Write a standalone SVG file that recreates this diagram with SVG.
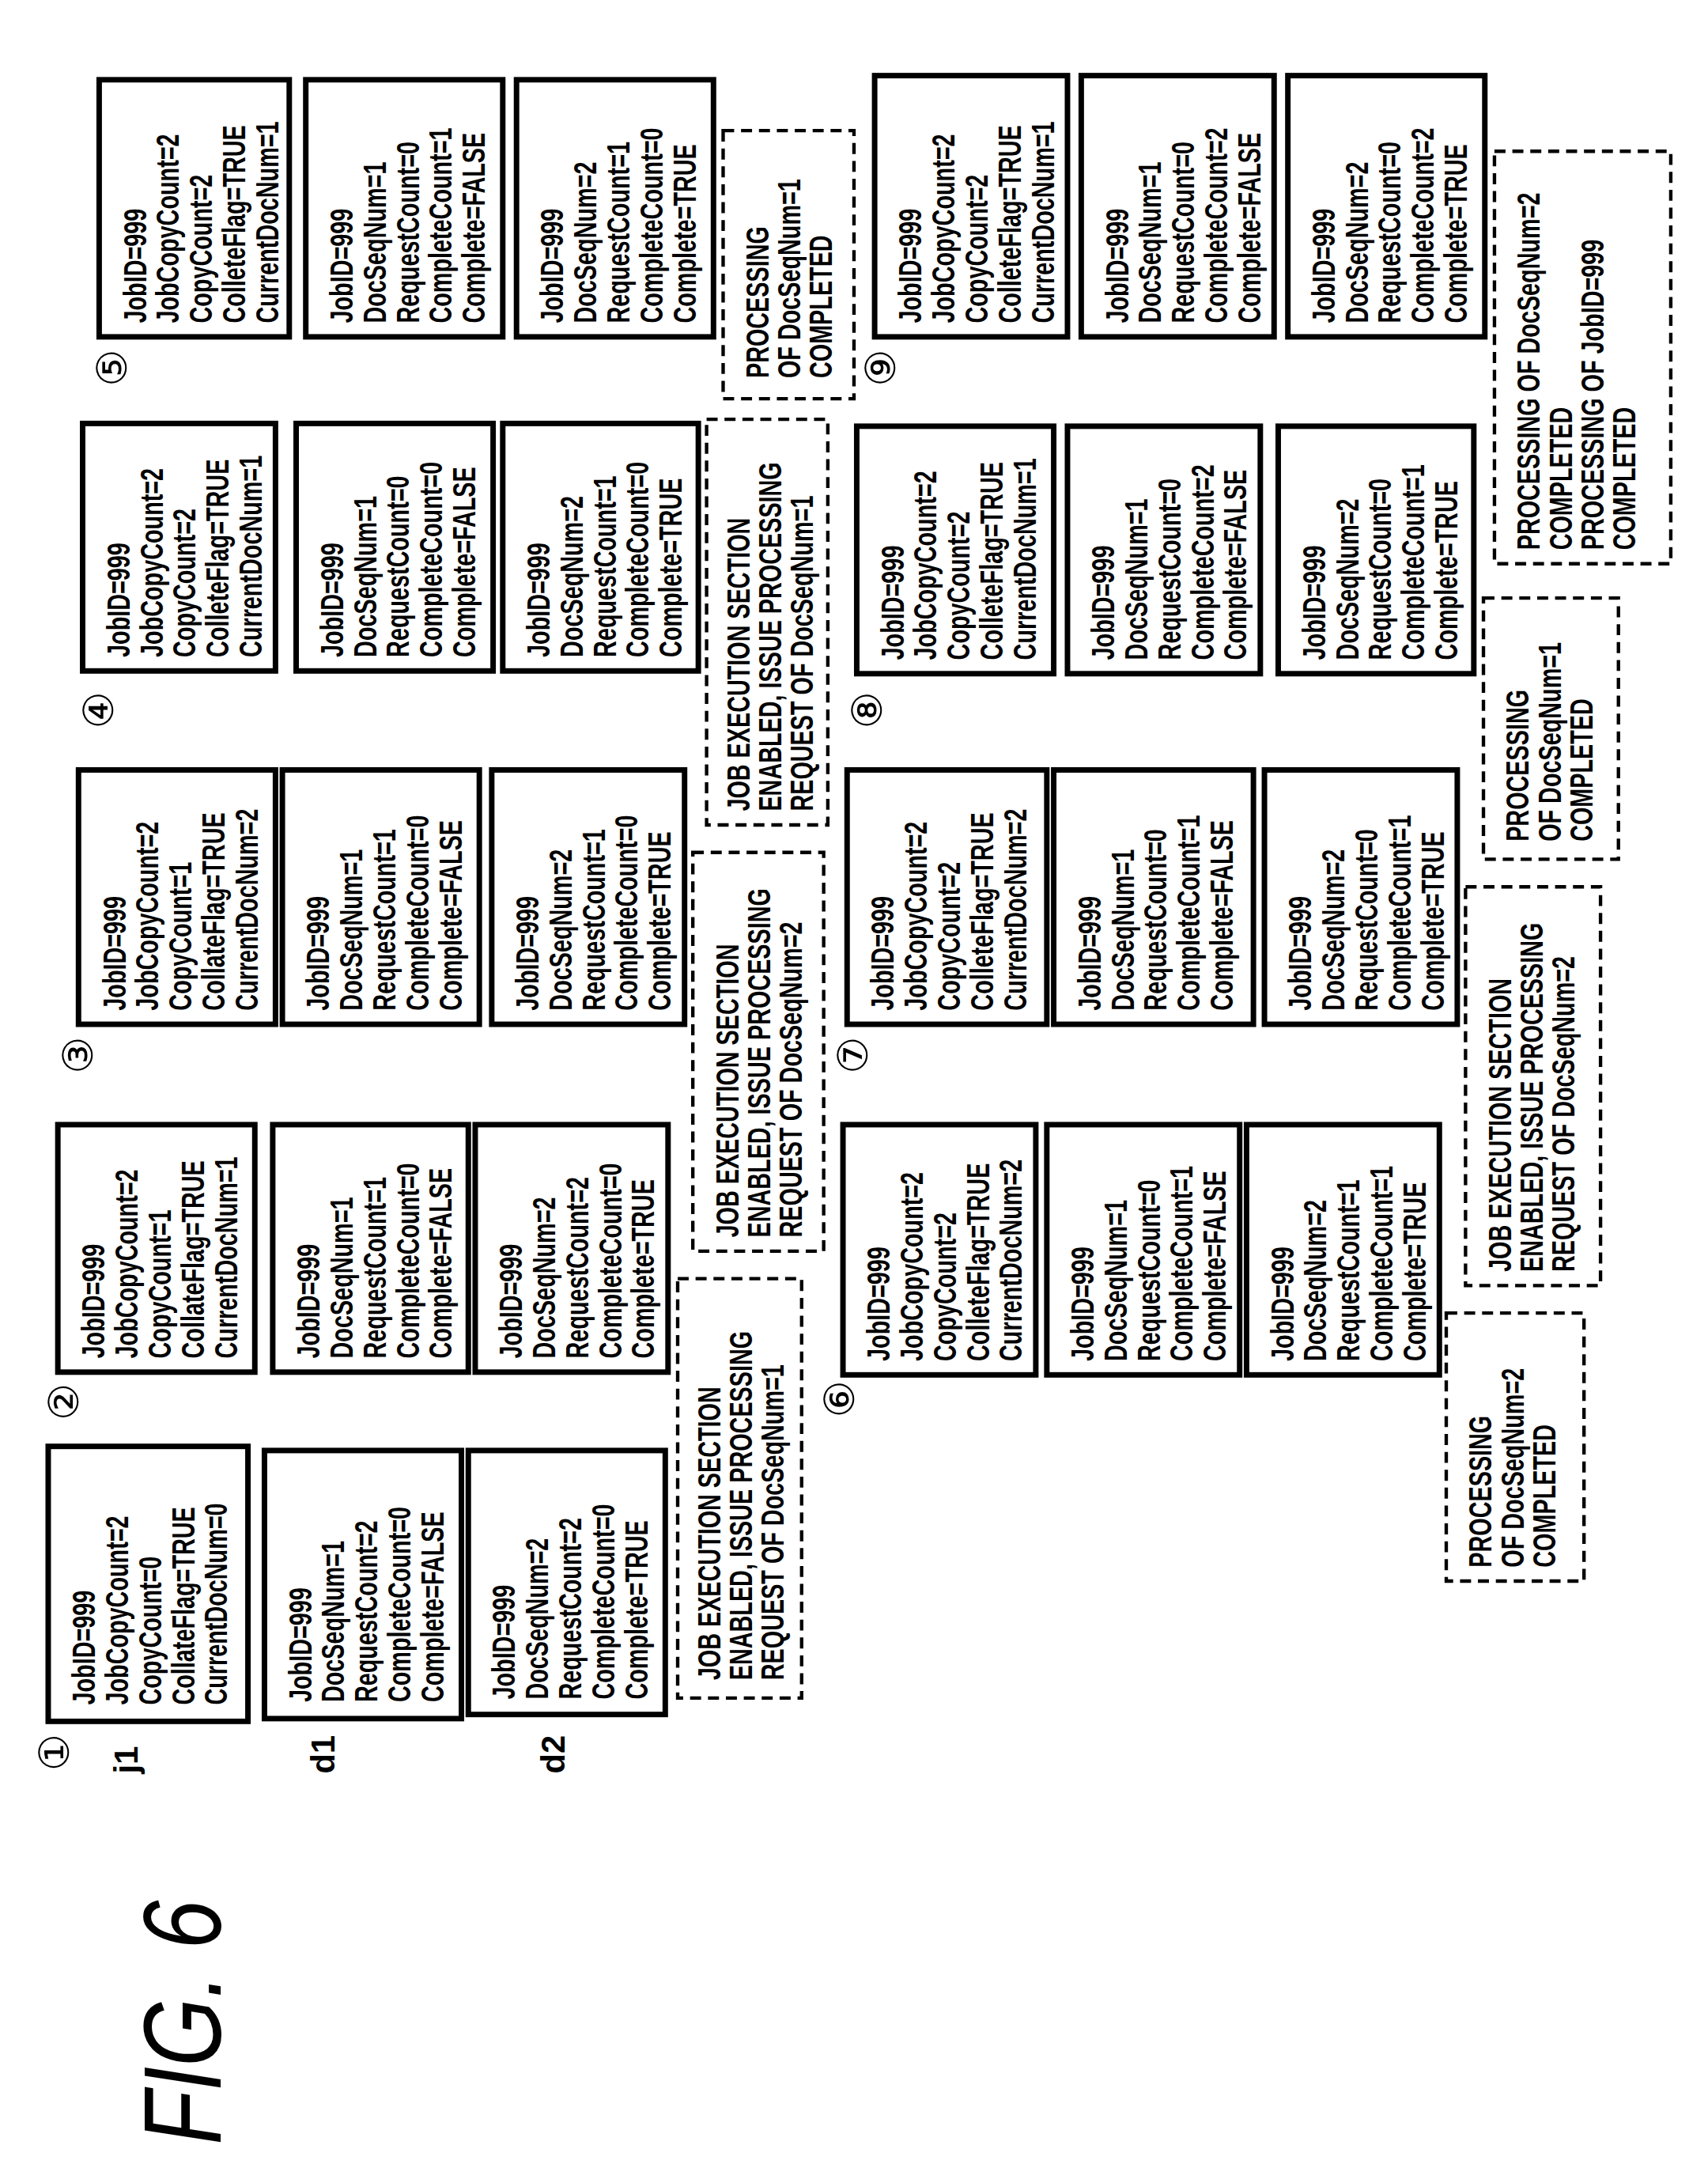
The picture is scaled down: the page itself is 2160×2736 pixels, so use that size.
<svg xmlns="http://www.w3.org/2000/svg" width="2160" height="2736" viewBox="0 0 2160 2736">
<style>
.b{fill:#fff;stroke:#000;stroke-width:4}
.d{fill:none;stroke:#000;stroke-width:2.5;stroke-dasharray:8 5}
.t{font-family:"Liberation Sans",Arial,sans-serif;font-weight:bold;font-size:23px;fill:#000}
.c{font-family:"DejaVu Sans",sans-serif;font-size:30px;fill:#000}
.l{font-family:"Liberation Sans",Arial,sans-serif;font-weight:bold;font-size:24px;fill:#000}
.f{font-family:"Liberation Sans",Arial,sans-serif;font-style:italic;font-size:80px;fill:#000}
</style>
<rect width="2160" height="2736" fill="#fff"/>
<g transform="scale(1.7419,1.7383)">
<g id="fig"><text class="f" transform="translate(160,1560) rotate(-90) scale(0.8,1)">FIG. 6</text></g>
<g id="labels">
<text class="c" transform="translate(50,1288) rotate(-90)">①</text>
<text class="l" transform="translate(100,1290) rotate(-90)">j1</text>
<text class="l" transform="translate(243,1290) rotate(-90)">d1</text>
<text class="l" transform="translate(410,1290) rotate(-90)">d2</text>
<text class="c" transform="translate(57,1033) rotate(-90)">②</text>
<text class="c" transform="translate(67,781) rotate(-90)">③</text>
<text class="c" transform="translate(82,530) rotate(-90)">④</text>
<text class="c" transform="translate(92,281) rotate(-90)">⑤</text>
<text class="c" transform="translate(620,1031) rotate(-90)">⑥</text>
<text class="c" transform="translate(630,781) rotate(-90)">⑦</text>
<text class="c" transform="translate(640,530) rotate(-90)">⑧</text>
<text class="c" transform="translate(650,281) rotate(-90)">⑨</text>
</g>

<!-- State 1 -->
<g id="s1j"><rect class="b" x="35" y="1052" width="145" height="200"/><text class="t" transform="translate(45,1240) rotate(-90) scale(0.72,1)"><tspan x="0" dy="24">JobID=999</tspan><tspan x="0" dy="24">JobCopyCount=2</tspan><tspan x="0" dy="24">CopyCount=0</tspan><tspan x="0" dy="24">CollateFlag=TRUE</tspan><tspan x="0" dy="24">CurrentDocNum=0</tspan></text></g>
<g id="s1d1"><rect class="b" x="192" y="1055" width="143" height="195"/><text class="t" transform="translate(202,1238) rotate(-90) scale(0.72,1)"><tspan x="0" dy="24">JobID=999</tspan><tspan x="0" dy="24">DocSeqNum=1</tspan><tspan x="0" dy="24">RequestCount=2</tspan><tspan x="0" dy="24">CompleteCount=0</tspan><tspan x="0" dy="24">Complete=FALSE</tspan></text></g>
<g id="s1d2"><rect class="b" x="340" y="1055" width="143" height="192"/><text class="t" transform="translate(350,1236) rotate(-90) scale(0.72,1)"><tspan x="0" dy="24">JobID=999</tspan><tspan x="0" dy="24">DocSeqNum=2</tspan><tspan x="0" dy="24">RequestCount=2</tspan><tspan x="0" dy="24">CompleteCount=0</tspan><tspan x="0" dy="24">Complete=TRUE</tspan></text></g>

<!-- State 2 -->
<g id="s2j"><rect class="b" x="42" y="818" width="143" height="180"/><text class="t" transform="translate(52,988) rotate(-90) scale(0.72,1)"><tspan x="0" dy="24">JobID=999</tspan><tspan x="0" dy="24">JobCopyCount=2</tspan><tspan x="0" dy="24">CopyCount=1</tspan><tspan x="0" dy="24">CollateFlag=TRUE</tspan><tspan x="0" dy="24">CurrentDocNum=1</tspan></text></g>
<g id="s2d1"><rect class="b" x="198" y="818" width="142" height="180"/><text class="t" transform="translate(208,988) rotate(-90) scale(0.72,1)"><tspan x="0" dy="24">JobID=999</tspan><tspan x="0" dy="24">DocSeqNum=1</tspan><tspan x="0" dy="24">RequestCount=1</tspan><tspan x="0" dy="24">CompleteCount=0</tspan><tspan x="0" dy="24">Complete=FALSE</tspan></text></g>
<g id="s2d2"><rect class="b" x="345" y="818" width="140" height="180"/><text class="t" transform="translate(355,988) rotate(-90) scale(0.72,1)"><tspan x="0" dy="24">JobID=999</tspan><tspan x="0" dy="24">DocSeqNum=2</tspan><tspan x="0" dy="24">RequestCount=2</tspan><tspan x="0" dy="24">CompleteCount=0</tspan><tspan x="0" dy="24">Complete=TRUE</tspan></text></g>

<!-- State 3 -->
<g id="s3j"><rect class="b" x="57" y="560" width="143" height="185"/><text class="t" transform="translate(67,735) rotate(-90) scale(0.72,1)"><tspan x="0" dy="24">JobID=999</tspan><tspan x="0" dy="24">JobCopyCount=2</tspan><tspan x="0" dy="24">CopyCount=1</tspan><tspan x="0" dy="24">CollateFlag=TRUE</tspan><tspan x="0" dy="24">CurrentDocNum=2</tspan></text></g>
<g id="s3d1"><rect class="b" x="205" y="560" width="143" height="185"/><text class="t" transform="translate(215,735) rotate(-90) scale(0.72,1)"><tspan x="0" dy="24">JobID=999</tspan><tspan x="0" dy="24">DocSeqNum=1</tspan><tspan x="0" dy="24">RequestCount=1</tspan><tspan x="0" dy="24">CompleteCount=0</tspan><tspan x="0" dy="24">Complete=FALSE</tspan></text></g>
<g id="s3d2"><rect class="b" x="357" y="560" width="140" height="185"/><text class="t" transform="translate(367,735) rotate(-90) scale(0.72,1)"><tspan x="0" dy="24">JobID=999</tspan><tspan x="0" dy="24">DocSeqNum=2</tspan><tspan x="0" dy="24">RequestCount=1</tspan><tspan x="0" dy="24">CompleteCount=0</tspan><tspan x="0" dy="24">Complete=TRUE</tspan></text></g>

<!-- State 4 -->
<g id="s4j"><rect class="b" x="60" y="308" width="140" height="180"/><text class="t" transform="translate(70,478) rotate(-90) scale(0.72,1)"><tspan x="0" dy="24">JobID=999</tspan><tspan x="0" dy="24">JobCopyCount=2</tspan><tspan x="0" dy="24">CopyCount=2</tspan><tspan x="0" dy="24">ColleteFlag=TRUE</tspan><tspan x="0" dy="24">CurrentDocNum=1</tspan></text></g>
<g id="s4d1"><rect class="b" x="215" y="308" width="143" height="180"/><text class="t" transform="translate(225,478) rotate(-90) scale(0.72,1)"><tspan x="0" dy="24">JobID=999</tspan><tspan x="0" dy="24">DocSeqNum=1</tspan><tspan x="0" dy="24">RequestCount=0</tspan><tspan x="0" dy="24">CompleteCount=0</tspan><tspan x="0" dy="24">Complete=FALSE</tspan></text></g>
<g id="s4d2"><rect class="b" x="365" y="308" width="142" height="180"/><text class="t" transform="translate(375,478) rotate(-90) scale(0.72,1)"><tspan x="0" dy="24">JobID=999</tspan><tspan x="0" dy="24">DocSeqNum=2</tspan><tspan x="0" dy="24">RequestCount=1</tspan><tspan x="0" dy="24">CompleteCount=0</tspan><tspan x="0" dy="24">Complete=TRUE</tspan></text></g>

<!-- State 5 -->
<g id="s5j"><rect class="b" x="72" y="58" width="138" height="187"/><text class="t" transform="translate(82,235) rotate(-90) scale(0.72,1)"><tspan x="0" dy="24">JobID=999</tspan><tspan x="0" dy="24">JobCopyCount=2</tspan><tspan x="0" dy="24">CopyCount=2</tspan><tspan x="0" dy="24">ColleteFlag=TRUE</tspan><tspan x="0" dy="24">CurrentDocNum=1</tspan></text></g>
<g id="s5d1"><rect class="b" x="222" y="58" width="143" height="187"/><text class="t" transform="translate(232,235) rotate(-90) scale(0.72,1)"><tspan x="0" dy="24">JobID=999</tspan><tspan x="0" dy="24">DocSeqNum=1</tspan><tspan x="0" dy="24">RequestCount=0</tspan><tspan x="0" dy="24">CompleteCount=1</tspan><tspan x="0" dy="24">Complete=FALSE</tspan></text></g>
<g id="s5d2"><rect class="b" x="375" y="58" width="143" height="187"/><text class="t" transform="translate(385,235) rotate(-90) scale(0.72,1)"><tspan x="0" dy="24">JobID=999</tspan><tspan x="0" dy="24">DocSeqNum=2</tspan><tspan x="0" dy="24">RequestCount=1</tspan><tspan x="0" dy="24">CompleteCount=0</tspan><tspan x="0" dy="24">Complete=TRUE</tspan></text></g>

<!-- State 6 -->
<g id="s6j"><rect class="b" x="612" y="818" width="140" height="182"/><text class="t" transform="translate(622,990) rotate(-90) scale(0.72,1)"><tspan x="0" dy="24">JobID=999</tspan><tspan x="0" dy="24">JobCopyCount=2</tspan><tspan x="0" dy="24">CopyCount=2</tspan><tspan x="0" dy="24">ColleteFlag=TRUE</tspan><tspan x="0" dy="24">CurrentDocNum=2</tspan></text></g>
<g id="s6d1"><rect class="b" x="760" y="818" width="140" height="182"/><text class="t" transform="translate(770,990) rotate(-90) scale(0.72,1)"><tspan x="0" dy="24">JobID=999</tspan><tspan x="0" dy="24">DocSeqNum=1</tspan><tspan x="0" dy="24">RequestCount=0</tspan><tspan x="0" dy="24">CompleteCount=1</tspan><tspan x="0" dy="24">Complete=FALSE</tspan></text></g>
<g id="s6d2"><rect class="b" x="905" y="818" width="140" height="182"/><text class="t" transform="translate(915,990) rotate(-90) scale(0.72,1)"><tspan x="0" dy="24">JobID=999</tspan><tspan x="0" dy="24">DocSeqNum=2</tspan><tspan x="0" dy="24">RequestCount=1</tspan><tspan x="0" dy="24">CompleteCount=1</tspan><tspan x="0" dy="24">Complete=TRUE</tspan></text></g>

<!-- State 7 -->
<g id="s7j"><rect class="b" x="615" y="560" width="145" height="185"/><text class="t" transform="translate(625,735) rotate(-90) scale(0.72,1)"><tspan x="0" dy="24">JobID=999</tspan><tspan x="0" dy="24">JobCopyCount=2</tspan><tspan x="0" dy="24">CopyCount=2</tspan><tspan x="0" dy="24">ColleteFlag=TRUE</tspan><tspan x="0" dy="24">CurrentDocNum=2</tspan></text></g>
<g id="s7d1"><rect class="b" x="765" y="560" width="145" height="185"/><text class="t" transform="translate(775,735) rotate(-90) scale(0.72,1)"><tspan x="0" dy="24">JobID=999</tspan><tspan x="0" dy="24">DocSeqNum=1</tspan><tspan x="0" dy="24">RequestCount=0</tspan><tspan x="0" dy="24">CompleteCount=1</tspan><tspan x="0" dy="24">Complete=FALSE</tspan></text></g>
<g id="s7d2"><rect class="b" x="918" y="560" width="140" height="185"/><text class="t" transform="translate(928,735) rotate(-90) scale(0.72,1)"><tspan x="0" dy="24">JobID=999</tspan><tspan x="0" dy="24">DocSeqNum=2</tspan><tspan x="0" dy="24">RequestCount=0</tspan><tspan x="0" dy="24">CompleteCount=1</tspan><tspan x="0" dy="24">Complete=TRUE</tspan></text></g>

<!-- State 8 -->
<g id="s8j"><rect class="b" x="622" y="310" width="143" height="180"/><text class="t" transform="translate(632,480) rotate(-90) scale(0.72,1)"><tspan x="0" dy="24">JobID=999</tspan><tspan x="0" dy="24">JobCopyCount=2</tspan><tspan x="0" dy="24">CopyCount=2</tspan><tspan x="0" dy="24">ColleteFlag=TRUE</tspan><tspan x="0" dy="24">CurrentDocNum=1</tspan></text></g>
<g id="s8d1"><rect class="b" x="775" y="310" width="140" height="180"/><text class="t" transform="translate(785,480) rotate(-90) scale(0.72,1)"><tspan x="0" dy="24">JobID=999</tspan><tspan x="0" dy="24">DocSeqNum=1</tspan><tspan x="0" dy="24">RequestCount=0</tspan><tspan x="0" dy="24">CompleteCount=2</tspan><tspan x="0" dy="24">Complete=FALSE</tspan></text></g>
<g id="s8d2"><rect class="b" x="928" y="310" width="142" height="180"/><text class="t" transform="translate(938,480) rotate(-90) scale(0.72,1)"><tspan x="0" dy="24">JobID=999</tspan><tspan x="0" dy="24">DocSeqNum=2</tspan><tspan x="0" dy="24">RequestCount=0</tspan><tspan x="0" dy="24">CompleteCount=1</tspan><tspan x="0" dy="24">Complete=TRUE</tspan></text></g>

<!-- State 9 -->
<g id="s9j"><rect class="b" x="635" y="55" width="140" height="190"/><text class="t" transform="translate(645,235) rotate(-90) scale(0.72,1)"><tspan x="0" dy="24">JobID=999</tspan><tspan x="0" dy="24">JobCopyCount=2</tspan><tspan x="0" dy="24">CopyCount=2</tspan><tspan x="0" dy="24">ColleteFlag=TRUE</tspan><tspan x="0" dy="24">CurrentDocNum=1</tspan></text></g>
<g id="s9d1"><rect class="b" x="785" y="55" width="140" height="190"/><text class="t" transform="translate(795,235) rotate(-90) scale(0.72,1)"><tspan x="0" dy="24">JobID=999</tspan><tspan x="0" dy="24">DocSeqNum=1</tspan><tspan x="0" dy="24">RequestCount=0</tspan><tspan x="0" dy="24">CompleteCount=2</tspan><tspan x="0" dy="24">Complete=FALSE</tspan></text></g>
<g id="s9d2"><rect class="b" x="935" y="55" width="143" height="190"/><text class="t" transform="translate(945,235) rotate(-90) scale(0.72,1)"><tspan x="0" dy="24">JobID=999</tspan><tspan x="0" dy="24">DocSeqNum=2</tspan><tspan x="0" dy="24">RequestCount=0</tspan><tspan x="0" dy="24">CompleteCount=2</tspan><tspan x="0" dy="24">Complete=TRUE</tspan></text></g>

<!-- Dashed notes -->
<g id="n1"><rect class="d" x="492" y="930" width="90" height="305"/><text class="t" transform="translate(500,1222) rotate(-90) scale(0.72,1)"><tspan x="0" dy="23">JOB  EXECUTION  SECTION</tspan><tspan x="0" dy="23">ENABLED,  ISSUE  PROCESSING</tspan><tspan x="0" dy="23">REQUEST  OF  DocSeqNum=1</tspan></text></g>
<g id="n2"><rect class="d" x="503" y="620" width="95" height="290"/><text class="t" transform="translate(513,900) rotate(-90) scale(0.72,1)"><tspan x="0" dy="23">JOB  EXECUTION  SECTION</tspan><tspan x="0" dy="23">ENABLED,  ISSUE  PROCESSING</tspan><tspan x="0" dy="23">REQUEST  OF  DocSeqNum=2</tspan></text></g>
<g id="n3"><rect class="d" x="513" y="305" width="88" height="295"/><text class="t" transform="translate(521,590) rotate(-90) scale(0.72,1)"><tspan x="0" dy="23">JOB  EXECUTION  SECTION</tspan><tspan x="0" dy="23">ENABLED,  ISSUE  PROCESSING</tspan><tspan x="0" dy="23">REQUEST  OF  DocSeqNum=1</tspan></text></g>
<g id="n4"><rect class="d" x="525" y="95" width="95" height="195"/><text class="t" transform="translate(535,275) rotate(-90) scale(0.72,1)"><tspan x="0" dy="23">PROCESSING</tspan><tspan x="0" dy="23">OF  DocSeqNum=1</tspan><tspan x="0" dy="23">COMPLETED</tspan></text></g>
<g id="n5"><rect class="d" x="1050" y="955" width="100" height="195"/><text class="t" transform="translate(1060,1140) rotate(-90) scale(0.72,1)"><tspan x="0" dy="23">PROCESSING</tspan><tspan x="0" dy="23">OF  DocSeqNum=2</tspan><tspan x="0" dy="23">COMPLETED</tspan></text></g>
<g id="n6"><rect class="d" x="1064" y="645" width="98" height="290"/><text class="t" transform="translate(1074,925) rotate(-90) scale(0.72,1)"><tspan x="0" dy="23">JOB  EXECUTION  SECTION</tspan><tspan x="0" dy="23">ENABLED,  ISSUE  PROCESSING</tspan><tspan x="0" dy="23">REQUEST  OF  DocSeqNum=2</tspan></text></g>
<g id="n7"><rect class="d" x="1077" y="435" width="98" height="190"/><text class="t" transform="translate(1087,612) rotate(-90) scale(0.72,1)"><tspan x="0" dy="23">PROCESSING</tspan><tspan x="0" dy="23">OF  DocSeqNum=1</tspan><tspan x="0" dy="23">COMPLETED</tspan></text></g>
<g id="n8"><rect class="d" x="1085" y="110" width="128" height="300"/><text class="t" transform="translate(1095,400) rotate(-90) scale(0.72,1)"><tspan x="0" dy="23">PROCESSING  OF  DocSeqNum=2</tspan><tspan x="0" dy="23">COMPLETED</tspan><tspan x="0" dy="23">PROCESSING  OF    JobID=999</tspan><tspan x="0" dy="23">COMPLETED</tspan></text></g>
<g id="connectors"/>
</g>
</svg>
